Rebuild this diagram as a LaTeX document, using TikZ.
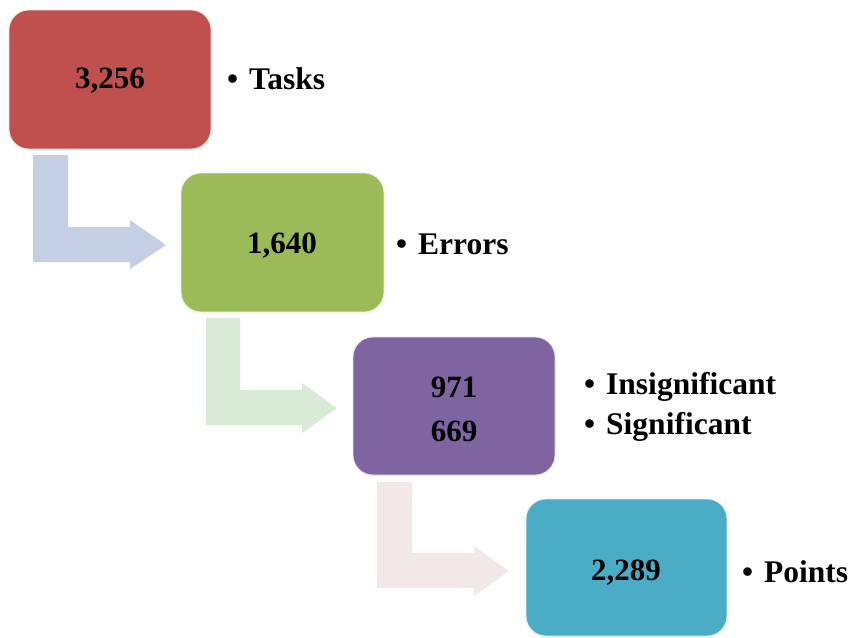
\documentclass[tikz,border=0pt]{standalone}
\usepackage{fontspec}
\setmainfont{Liberation Serif}
\begin{document}
\begin{tikzpicture}[x=1pt,y=-1pt,
  stage/.style={rounded corners=20pt, draw=white!80!#1, line width=0.8pt, fill=#1},
  num/.style={font=\fontsize{31}{40}\selectfont\bfseries, text=black, align=center},
  lbl/.style={font=\fontsize{31.5}{40}\selectfont\bfseries, text=black, anchor=west, inner sep=0pt},
  bend/.style={fill=#1, draw=none}]
\definecolor{cred}{HTML}{C0504D}
\definecolor{cgreen}{HTML}{9BBB59}
\definecolor{cpurple}{HTML}{8064A2}
\definecolor{cteal}{HTML}{4BACC6}
\definecolor{ablue}{HTML}{C4CFE3}
\definecolor{agreen}{HTML}{D9EAD6}
\definecolor{apink}{HTML}{F2E8E8}
\useasboundingbox (0,0) rectangle (853,637);
% bent arrows
\fill[ablue] (33,155) -- (68,155) -- (68,227) -- (130,227) -- (130,220) -- (166,245) -- (130,269) -- (130,262) -- (33,262) -- cycle;
\fill[agreen] (206,318) -- (240,318) -- (240,390) -- (302,390) -- (302,383) -- (337,408) -- (302,433) -- (302,425) -- (206,425) -- cycle;
\fill[apink] (377,482) -- (412,482) -- (412,553) -- (474,553) -- (474,546) -- (509,571) -- (474,596) -- (474,588) -- (377,588) -- cycle;
% boxes
\draw[stage=cred] (9,10) rectangle (211,149);
\draw[stage=cgreen] (181,173) rectangle (384,312);
\draw[stage=cpurple] (353,337) rectangle (555,475);
\draw[stage=cteal] (526,499) rectangle (727,636);
% numbers
\node[num] (n1) at (110,81) {3,256};
\node[num] (n2) at (282,246) {1,640};
\node[num] (n3a) at (454,387) {971};
\node[num] (n3b) at (454,431) {669};
\node[num] (n4) at (626,573) {2,289};
% labels
\node[lbl] (l1) at (227,79) {\textbullet\hspace{11pt}Tasks};
\node[lbl] (l2) at (396,244) {\textbullet\hspace{11pt}Errors};
\node[lbl] (l3a) at (584,387) {\textbullet\hspace{11pt}Insignificant};
\node[lbl] (l3b) at (584,427) {\textbullet\hspace{11pt}Significant};
\node[lbl] (l4) at (742,572) {\textbullet\hspace{11pt}Points};
\end{tikzpicture}
\end{document}
